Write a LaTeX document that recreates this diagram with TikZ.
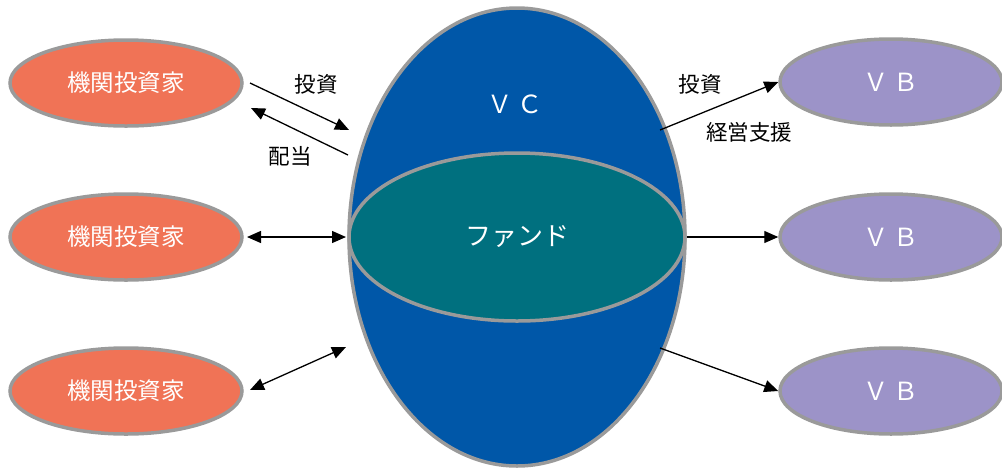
\documentclass[tikz,border=0pt]{standalone}
\usepackage{fontspec}
\setmainfont{Noto Sans CJK JP}
\usetikzlibrary{shapes.geometric,arrows.meta}
\definecolor{investor}{HTML}{F07356}
\definecolor{vbcol}{HTML}{9C93C8}
\definecolor{vccol}{HTML}{0057A8}
\definecolor{fundcol}{HTML}{00707F}
\definecolor{edgegray}{HTML}{9A9A9A}
\tikzset{
  oval/.style={ellipse, inner sep=0pt, draw=edgegray, line width=3.5pt, text=white},
  inv/.style={oval, fill=investor, minimum width=232pt, minimum height=86pt, font=\fontsize{23.5}{26}\selectfont},
  vb/.style={oval, fill=vbcol, minimum width=222pt, minimum height=86pt, font=\fontsize{25}{26}\selectfont},
  lbl/.style={font=\fontsize{21.5}{24}\selectfont, text=black, inner sep=0pt},
  arr/.style={line width=1.3pt, -{Triangle[length=14pt,width=12pt]}},
  darr/.style={line width=1.3pt, {Triangle[length=14pt,width=12pt]}-{Triangle[length=14pt,width=12pt]}}
}
\begin{document}
\begin{tikzpicture}[x=1pt,y=-1pt]
\useasboundingbox (0,0) rectangle (1002,467);
% central
\node[oval, fill=vccol, minimum width=336pt, minimum height=458pt] (vc) at (517,237) {};
\node[text=white, font=\fontsize{25}{26}\selectfont] (vct) at (515,104) {Ｖ\,Ｃ};
\node[oval, fill=fundcol, minimum width=336pt, minimum height=168pt, font=\fontsize{26}{28}\selectfont] (fund) at (517,237) {ファンド};
% investors
\node[inv] (i1) at (126,83) {機関投資家};
\node[inv] (i2) at (126,237) {機関投資家};
\node[inv] (i3) at (126,391) {機関投資家};
% VBs
\node[vb] (v1) at (891,82) {Ｖ\,Ｂ};
\node[vb] (v2) at (891,237) {Ｖ\,Ｂ};
\node[vb] (v3) at (891,391) {Ｖ\,Ｂ};
% arrow end points
\coordinate (a1s) at (250,83);
\coordinate (a1e) at (349,130);
\coordinate (a2s) at (348,155);
\coordinate (a2e) at (251,108);
\coordinate (m1) at (247,237);
\coordinate (m2) at (346,237);
\coordinate (b1) at (250,390);
\coordinate (b2) at (346,347);
\coordinate (r1) at (660,130);
\coordinate (r3) at (660,348);
% connectors
\draw[arr] (a1s) -- (a1e);
\draw[arr] (a2s) -- (a2e);
\draw[darr] (m1) -- (m2);
\draw[darr] (b1) -- (b2);
\draw[arr] (r1) -- (v1.west);
\draw[arr] (fund.east) -- (v2.west);
\draw[arr] (r3) -- (v3.west);
% labels
\node[lbl] (l1) at (316,84) {投資};
\node[lbl] (l2) at (290,156) {配当};
\node[lbl] (l3) at (700,84) {投資};
\node[lbl] (l4) at (749,132) {経営支援};
\end{tikzpicture}
\end{document}
